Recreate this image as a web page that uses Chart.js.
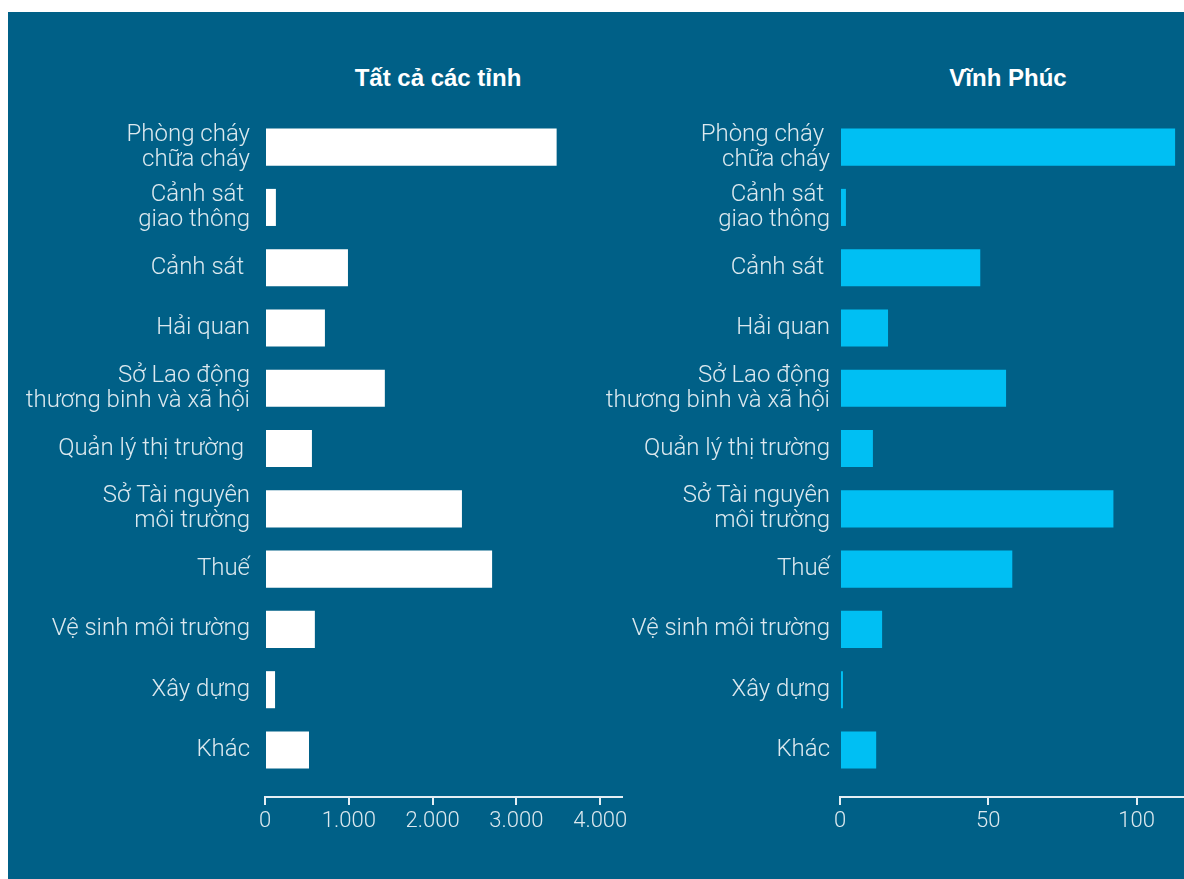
<!DOCTYPE html>
<html lang="vi">
<head>
<meta charset="utf-8">
<script src="https://cdn.jsdelivr.net/npm/chart.js@4.4.0/dist/chart.umd.min.js"></script>
<style>
    html, body { margin: 0; padding: 0; background: #ffffff; }
    body { width: 1184px; height: 879px; position: relative; overflow: hidden; }
    #panel { position: absolute; left: 8px; top: 12px; right: 0; bottom: 0; background: #006087; }
    .titulo { position: absolute; top: 64px; color: #ffffff; font: bold 24px "Liberation Sans", Arial, sans-serif; text-align: center; width: 300px; }
    .box { position: absolute; top: 0; height: 879px; }
</style>
</head>
<body>
<div id="panel"></div>
<div class="titulo" style="left: 288px;">Tất cả các tỉnh</div>
<div class="titulo" style="left: 858px;">Vĩnh Phúc</div>
<div class="box" style="left: 0; width: 640px;"><canvas id="chartTodas"></canvas></div>
<div class="box" style="left: 560px; width: 624px;"><canvas id="chartVinhPhuc"></canvas></div>

<script>
// --- Dados ---
const categoriasEsq = [
    ["Phòng cháy", "chữa cháy"],
    ["Cảnh sát ", "giao thông"],
    "Cảnh sát ",
    "Hải quan",
    ["Sở Lao động", "thương binh và xã hội"],
    "Quản lý thị trường ",
    ["Sở Tài nguyên", "môi trường"],
    "Thuế",
    "Vệ sinh môi trường",
    "Xây dựng",
    "Khác"
];
const categoriasDir = [
    ["Phòng cháy ", "chữa cháy"],
    ["Cảnh sát ", "giao thông"],
    "Cảnh sát ",
    "Hải quan",
    ["Sở Lao động", "thương binh và xã hội"],
    "Quản lý thị trường",
    ["Sở Tài nguyên", "môi trường"],
    "Thuế",
    "Vệ sinh môi trường",
    "Xây dựng",
    "Khác"
];
const valoresTodas = [3480, 130, 990, 715, 1430, 560, 2350, 2710, 595, 120, 525];
const valoresVinhPhuc = [113, 2, 47.3, 16.2, 56, 11.1, 92.2, 58.1, 14.2, 1, 12.2];
const ticksTodas = [0, 1000, 2000, 3000, 4000];
const ticksVinhPhuc = [0, 50, 100];

const corTexto = "#dce9ef";
const corEixo = "#e4eef3";
const fonteRotulo = { family: "Roboto, 'Liberation Sans', sans-serif", size: 24, weight: "300", lineHeight: 1.05 };
const fonteTick = { family: "Roboto, 'Liberation Sans', sans-serif", size: 22, weight: "300" };

function formatarMilhar(v) {
    return String(v).replace(/\B(?=(\d{3})+(?!\d))/g, ".");
}

function criarGrafico(id, labels, dados, cor, maxX, listaTicks, larguraY, padY, padDir) {
    const ctx = document.getElementById(id).getContext("2d");
    return new Chart(ctx, {
        type: "bar",
        data: {
            labels: labels,
            datasets: [{
                data: dados,
                backgroundColor: cor,
                borderWidth: 0,
                barPercentage: 0.615,
                categoryPercentage: 1
            }]
        },
        options: {
            indexAxis: "y",
            responsive: true,
            maintainAspectRatio: false,
            animation: false,
            layout: { padding: { top: 117, bottom: 42, right: padDir, left: 0 } },
            plugins: { legend: { display: false }, tooltip: { enabled: false } },
            scales: {
                y: {
                    grid: { display: false, drawTicks: false },
                    border: { display: false },
                    ticks: { color: corTexto, font: fonteRotulo, padding: padY, autoSkip: false },
                    afterFit: s => { s.width = larguraY; },
                    // espaço extra entre a última barra e o eixo (como no original)
                    afterBuildTicks: s => { s._valueRange = s.ticks.length + 0.28; }
                },
                x: {
                    min: 0,
                    max: maxX,
                    grid: { drawOnChartArea: false, drawTicks: true, tickLength: 8, color: corEixo, lineWidth: 2 },
                    border: { display: true, color: corEixo, width: 2 },
                    ticks: {
                        color: corTexto,
                        font: fonteTick,
                        padding: 3,
                        maxRotation: 0,
                        callback: v => formatarMilhar(v)
                    },
                    afterBuildTicks: s => { s.ticks = listaTicks.map(v => ({ value: v })); },
                    afterFit: s => { s.height = 40; }
                }
            }
        }
    });
}

document.addEventListener("DOMContentLoaded", function () {
    criarGrafico("chartTodas", categoriasEsq, valoresTodas, "#ffffff", 4260, ticksTodas, 265, 15, 18);
    criarGrafico("chartVinhPhuc", categoriasDir, valoresVinhPhuc, "#00bff3", 116, ticksVinhPhuc, 280, 10, 0);
});
</script>
</body>
</html>
